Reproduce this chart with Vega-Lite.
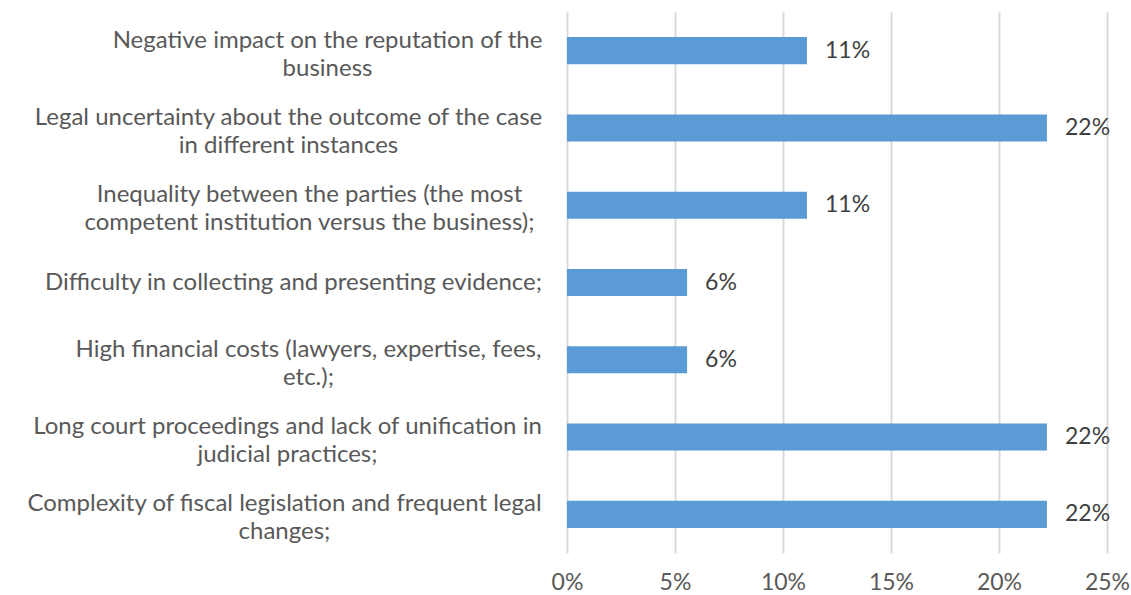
{
  "$schema": "https://vega.github.io/schema/vega-lite/v6.json",
  "width": 540,
  "height": 541,
  "autosize": "none",
  "padding": {"left": 567, "top": 12, "right": 24, "bottom": 42},
  "background": "white",
  "config": {
    "view": {"stroke": null},
    "font": "Lato"
  },
  "data": {
    "values": [
      {"label": "Negative impact on the reputation of the|business", "share": 0.1111},
      {"label": "Legal uncertainty about the outcome of the case|in different instances", "share": 0.2222},
      {"label": "Inequality between the parties (the most|competent institution versus the business);", "share": 0.1111},
      {"label": "Difficulty in collecting and presenting evidence;", "share": 0.0556},
      {"label": "High financial costs (lawyers, expertise, fees,|etc.);", "share": 0.0556},
      {"label": "Long court proceedings and lack of unification in|judicial practices;", "share": 0.2222},
      {"label": "Complexity of fiscal legislation and frequent legal|changes;", "share": 0.2222}
    ]
  },
  "encoding": {
    "y": {
      "field": "label",
      "type": "nominal",
      "sort": null,
      "scale": {"paddingInner": 0.65, "paddingOuter": 0.325},
      "axis": {
        "title": null,
        "domain": false,
        "ticks": false,
        "labelExpr": "split(datum.label, '|')",
        "labelAlign": "center",
        "labelBaseline": "middle",
        "labelFontSize": 24,
        "labelLineHeight": 28,
        "labelColor": "#595959",
        "labelLimit": 1000,
        "labelOffset": {
          "condition": {"test": "indexof(datum.value, '|') >= 0", "value": -10},
          "value": 0
        },
        "labelPadding": {
          "condition": [
            {"test": "indexof(datum.value, 'Negative') == 0", "value": 240},
            {"test": "indexof(datum.value, 'Legal') == 0", "value": 279},
            {"test": "indexof(datum.value, 'Inequality') == 0", "value": 258},
            {"test": "indexof(datum.value, 'Difficulty') == 0", "value": 274},
            {"test": "indexof(datum.value, 'High') == 0", "value": 259},
            {"test": "indexof(datum.value, 'Long') == 0", "value": 280}
          ],
          "value": 283
        }
      }
    },
    "x": {
      "field": "share",
      "type": "quantitative",
      "scale": {"domain": [0, 0.25]},
      "axis": {
        "title": null,
        "values": [0, 0.05, 0.1, 0.15, 0.2, 0.25],
        "format": ".0%",
        "domain": false,
        "ticks": false,
        "grid": true,
        "gridColor": "#D9D9D9",
        "gridWidth": 2,
        "labelFontSize": 23,
        "labelColor": "#595959",
        "labelPadding": 18,
        "labelFlush": false
      }
    }
  },
  "layer": [
    {"mark": {"type": "bar", "color": "#5B9BD5"}},
    {
      "mark": {"type": "text", "align": "left", "baseline": "middle", "dx": 18, "fontSize": 23, "color": "#404040"},
      "encoding": {"text": {"field": "share", "type": "quantitative", "format": ".0%"}}
    }
  ]
}
